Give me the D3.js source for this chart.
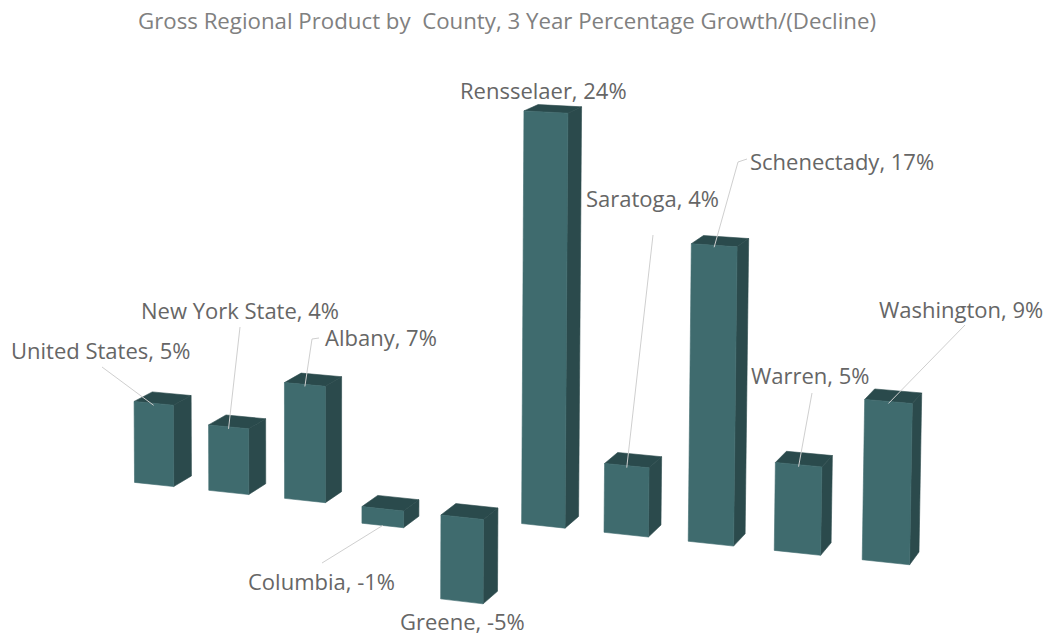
<!DOCTYPE html>
<html><head><meta charset="utf-8">
<script src="https://cdn.jsdelivr.net/npm/d3@7/dist/d3.min.js"></script>
<style>html,body{margin:0;background:#fff}svg{display:block}text{font-family:"Open Sans",sans-serif}</style>
</head><body><svg id="chart" width="1049" height="637"></svg>
<script>
// Three-year growth of gross regional product, in percent.
const categories = ["United States", "New York State", "Albany", "Columbia", "Greene", "Rensselaer", "Saratoga", "Schenectady", "Warren", "Washington"];
const growth = [5, 4, 7, -1, -5, 24, 4, 17, 5, 9];
const chartTitle = "Gross Regional Product by\u00a0 County, 3 Year Percentage Growth/(Decline)";

// Label placement: text start and baseline, then the leader's outer points.
const labelLayout = [
  { x: 11, y: 359, leader: [[102, 367]] },
  { x: 141, y: 319, leader: [[240, 327]] },
  { x: 325, y: 346, leader: [[319, 338], [312, 339]] },
  { x: 248, y: 590, leader: [[322, 563]] },
  { x: 400, y: 630, leader: null },
  { x: 460, y: 99, leader: null },
  { x: 586, y: 207, leader: [[653, 235]] },
  { x: 750, y: 170, leader: [[747, 159], [738, 162]] },
  { x: 751, y: 384, leader: [[812, 393]] },
  { x: 879, y: 318, leader: [[965, 325]] }
];

// World axes: x along the row of bars, y up by value, z into the scene.
const xWorld = d3.scaleBand().domain(categories).range([0, 10]).paddingInner(0.47).paddingOuter(0.2);
const yWorld = d3.scaleLinear().domain([0, 24]).range([0, 1]);
const zWorld = d3.scaleLinear().domain([0, 1]).range([0, 1]);

// Perspective camera as a homogeneous 3x4 matrix.
const camera = [
  [71.50797, -3.561350, 20.01813, 119.8450],
  [2.920514, -392.2863, -4.574527, 480.8429],
  [-0.009995476, -0.01103474, 0.01257220, 1]
];
const project = ([x, y, z]) => {
  const [a, b, c] = camera.map(r => r[0] * x + r[1] * y + r[2] * z + r[3]);
  return [a / c, b / c];
};

const svg = d3.select("#chart");
const facePath = d3.line();
const face = pts => facePath(pts.map(project)) + "Z";

const bars = categories.map((name, i) => {
  const x0 = xWorld(name), x1 = x0 + xWorld.bandwidth();
  const top = yWorld(Math.max(growth[i], 0)), bottom = yWorld(Math.min(growth[i], 0));
  return { name, value: growth[i], x0, x1, top, bottom, layout: labelLayout[i] };
});

const z0 = zWorld(0), z1 = zWorld(1);
const barGroups = svg.append("g").selectAll("g").data(bars).join("g")
  .attr("stroke-width", 0.6).attr("stroke-linejoin", "round");
barGroups.append("path").attr("fill", "#2b4a4c").attr("stroke", "#2b4a4c")
  .attr("d", d => face([[d.x1, d.top, z0], [d.x1, d.top, z1], [d.x1, d.bottom, z1], [d.x1, d.bottom, z0]]));
barGroups.append("path").attr("fill", "#2a4a4c").attr("stroke", "#2a4a4c")
  .attr("d", d => face([[d.x0, d.top, z0], [d.x1, d.top, z0], [d.x1, d.top, z1], [d.x0, d.top, z1]]));
barGroups.append("path").attr("fill", "#3f6b6e").attr("stroke", "#3f6b6e")
  .attr("d", d => face([[d.x0, d.top, z0], [d.x1, d.top, z0], [d.x1, d.bottom, z0], [d.x0, d.bottom, z0]]));

// Leaders run from the label to the middle of the bar's front edge at its value.
svg.append("g").selectAll("path").data(bars.filter(d => d.layout.leader)).join("path")
  .attr("fill", "none").attr("stroke", "#cfcfcf").attr("stroke-width", 1)
  .attr("d", d => {
    const end = project([(d.x0 + d.x1) / 2, yWorld(d.value), z0]);
    return facePath([...d.layout.leader, d.value < 0 ? end : [end[0], end[1] + 2]]);
  });

svg.append("g").selectAll("text").data(bars).join("text")
  .attr("x", d => d.layout.x).attr("y", d => d.layout.y)
  .attr("font-size", 22).attr("fill", "#666666")
  .text(d => `${d.name}, ${d.value}%`);

svg.append("text").attr("x", 138).attr("y", 29)
  .attr("font-size", 22.25).attr("fill", "#808080")
  .text(chartTitle);
</script></body></html>
